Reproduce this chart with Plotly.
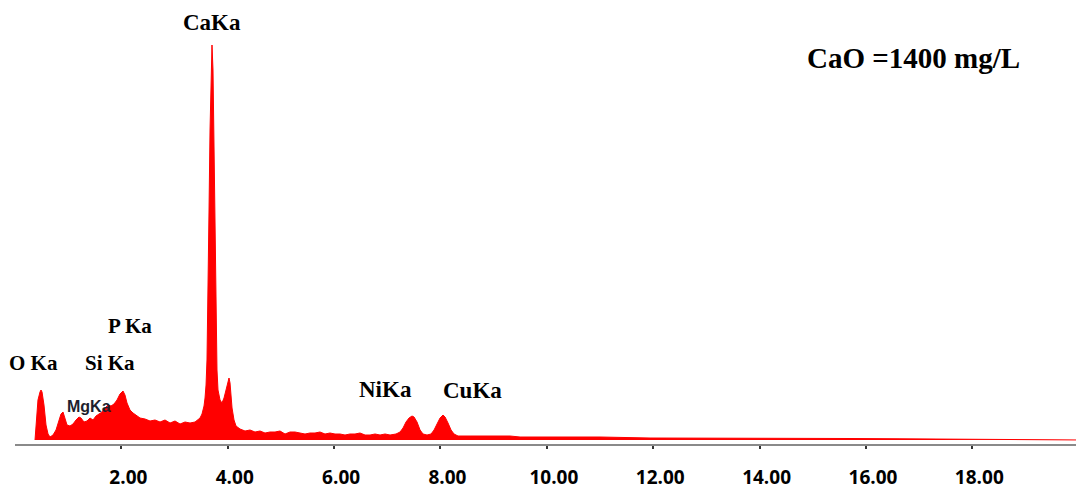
import plotly.graph_objects as go

# EDS spectrum: energy (keV) and intensity (arbitrary counts)
energy_kev = [
    0.376, 0.395, 0.432, 0.470, 0.489, 0.508, 0.545, 0.583, 0.621, 0.658,
    0.715, 0.771, 0.827, 0.865, 0.903, 0.940, 0.978, 1.034, 1.091, 1.147,
    1.203, 1.241, 1.297, 1.354, 1.410, 1.467, 1.523, 1.580, 1.636, 1.692,
    1.749, 1.805, 1.862, 1.918, 1.974, 2.031, 2.068, 2.106, 2.162, 2.219,
    2.275, 2.351, 2.445, 2.539, 2.633, 2.727, 2.821, 2.915, 3.009, 3.103,
    3.197, 3.291, 3.385, 3.441, 3.479, 3.516, 3.554, 3.573, 3.592, 3.610,
    3.629, 3.648, 3.667, 3.686, 3.704, 3.723, 3.742, 3.761, 3.780, 3.798,
    3.817, 3.855, 3.892, 3.930, 3.968, 4.005, 4.024, 4.043, 4.062, 4.081,
    4.118, 4.156, 4.231, 4.325, 4.419, 4.513, 4.607, 4.701, 4.795, 4.889,
    4.983, 5.077, 5.171, 5.265, 5.359, 5.453, 5.547, 5.641, 5.735, 5.829,
    5.923, 6.017, 6.111, 6.205, 6.299, 6.393, 6.487, 6.582, 6.676, 6.770,
    6.864, 6.958, 7.052, 7.164, 7.240, 7.296, 7.352, 7.409, 7.465, 7.503,
    7.559, 7.616, 7.672, 7.747, 7.823, 7.879, 7.935, 7.992, 8.048, 8.086,
    8.142, 8.199, 8.255, 8.330, 8.556, 8.744, 8.932, 9.120, 9.308, 9.496,
    9.684, 10.25, 11.00, 11.94, 12.88, 13.82, 14.76, 15.70, 16.64, 17.58,
    18.52, 19.46, 20.10,
]
counts = [
    0, 15, 40, 48, 50, 48, 35, 15, 6, 3,
    5, 10, 20, 26, 28, 22, 15, 14, 16, 20,
    23, 22, 18, 19, 22, 20, 24, 26, 28, 32,
    35, 34, 36, 40, 46, 49, 45, 37, 30, 27,
    25, 22, 21, 19, 20, 18, 20, 17, 19, 16,
    18, 17, 18, 20, 22, 26, 34, 42, 55, 80,
    140, 230, 310, 365, 395, 370, 290, 190, 110, 70,
    50, 40, 37, 42, 50, 60, 62, 57, 45, 32,
    20, 14, 11, 9, 10, 8, 9, 7, 8, 8,
    9, 6, 8, 8, 7, 6, 7, 7, 8, 6,
    7, 6, 6, 5, 6, 6, 7, 5, 5, 6,
    5, 6, 5, 6, 8, 12, 18, 22, 24, 23,
    18, 10, 6, 5, 6, 10, 16, 22, 25, 23,
    17, 10, 6, 4, 4, 4, 4, 4, 4, 3,
    3, 3, 3, 2, 2, 2, 1.5, 1.5, 1.2, 1.0,
    0.8, 0.5, 0,
]

tick_vals = [2, 4, 6, 8, 10, 12, 14, 16, 18]
tick_text = ["2.00", "4.00", "6.00", "8.00", "10.00", "12.00", "14.00", "16.00", "18.00"]

peak_labels = ["CaKa", "O Ka", "Si Ka", "P Ka", "NiKa", "CuKa"]
peak_label_x = [3.70, 0.34, 1.79, 2.16, 6.96, 8.61]
peak_label_y = [418, 77, 77, 114, 51, 50]
peak_label_size = [23, 21, 21, 21, 23, 23]

fig = go.Figure()
fig.add_trace(go.Scatter(
    x=energy_kev, y=counts, mode="lines",
    line=dict(color="#ff0000", width=1),
    fill="tozeroy", fillcolor="#ff0000",
    hoverinfo="skip", showlegend=False,
))

for txt, xv, yv, sz in zip(peak_labels, peak_label_x, peak_label_y, peak_label_size):
    fig.add_annotation(
        x=xv, y=yv, text="<b>" + txt + "</b>", showarrow=False,
        font=dict(family="Liberation Serif", size=sz, color="black"),
        xanchor="center", yanchor="middle",
    )

fig.add_annotation(
    x=1.39, y=34, text="<b>MgKa</b>", showarrow=False,
    font=dict(family="Liberation Sans", size=16, color="#1e1e2e"),
    xanchor="center", yanchor="middle",
)

fig.add_annotation(
    x=16.89, y=382, text="<b>CaO =1400 mg/L</b>", showarrow=False,
    font=dict(family="Liberation Serif", size=29, color="black"),
    xanchor="center", yanchor="middle",
)

fig.update_layout(
    width=1076, height=485,
    margin=dict(l=7, r=0, t=0, b=49),
    paper_bgcolor="white", plot_bgcolor="white",
    xaxis=dict(
        range=[0, 20.1], showgrid=False, zeroline=False,
        showline=True, linecolor="#8a8a8a", linewidth=1.5,
        tickmode="array", tickvals=tick_vals,
        ticktext=["<b>" + t + "</b>" for t in tick_text],
        ticks="outside", ticklen=3, tickwidth=2, tickcolor="#333333",
        tickfont=dict(family="Open Sans", size=19, color="black"),
        ticklabelstandoff=12, ticklabelshift=7,
        fixedrange=True,
    ),
    yaxis=dict(
        range=[-4, 432], visible=False, fixedrange=True,
    ),
)

fig.write_html("out.html")
